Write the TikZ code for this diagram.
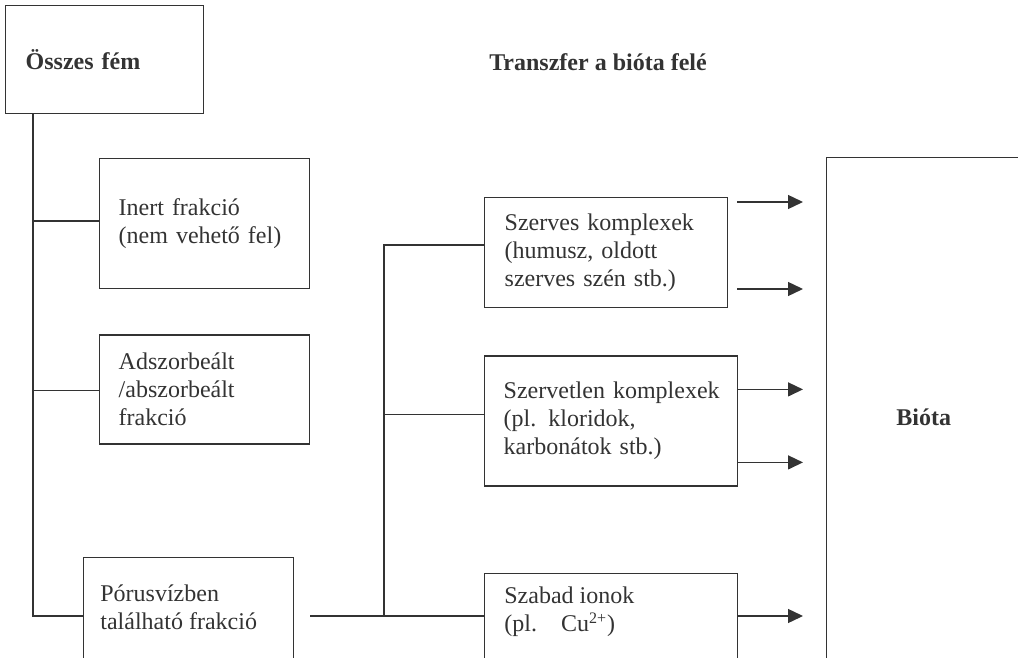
\documentclass[tikz,border=0pt]{standalone}
\usepackage{fontspec}
\setmainfont{Liberation Serif}
\usetikzlibrary{arrows.meta, positioning}
\definecolor{ink}{HTML}{333333}

\begin{document}
\begin{tikzpicture}[x=0.5pt, y=-0.5pt,
	box/.style = {draw=ink, line width=0.7pt, text=ink, align=left, anchor=north west,
		inner ysep=0pt, font=\fontsize{12}{14}\selectfont},
	txt/.style = {text=ink, align=left, inner sep=0pt, anchor=west, font=\fontsize{12}{14}\selectfont},
	flow/.style = {% arrow into the biota
		draw=ink, line width=0.7pt, -{Triangle[length=7.5pt, width=7pt]}, shorten >=11.5pt},
	link/.style = {draw=ink, line width=0.7pt}]
\useasboundingbox (0,0) rectangle (1018,658);
\clip (0,0) rectangle (1018,658);

% left column
\node[box, minimum width=99pt, minimum height=54pt, text width=79pt, inner xsep=10pt,
	font=\fontsize{12}{14}\selectfont\bfseries] (total) at (5,5) {Összes fém};
\node[box, minimum width=105pt, minimum height=65pt, text width=86pt, inner xsep=9.5pt]
	(inert) at (99,158) {Inert frakció\\(nem vehető fel)};
\node[box, minimum width=105pt, minimum height=54.5pt, text width=86pt, inner xsep=9.5pt,
	below=22.5pt of inert.south west, anchor=north west] (adsorb) {Adszorbeált\\/abszorbeált\\frakció};
\node[box, minimum width=105pt, minimum height=60pt] (pore) at (83,557) {};
\node[txt] (poretext) at ([xshift=8.5pt, yshift=-25.25pt]pore.north west) {Pórusvízben\\található frakció};

% middle column
\node[txt, anchor=center, font=\fontsize{12}{14}\selectfont\bfseries] (transfer) at (598,62) {Transzfer a bióta felé};
\node[box, minimum width=121.5pt, minimum height=55pt, text width=101.5pt, inner xsep=10pt]
	(org) at (484,197) {Szerves komplexek\\(humusz, oldott\\szerves szén stb.)};
\node[box, minimum width=126.5pt, minimum height=65pt, text width=107.5pt, inner xsep=9.5pt,
	below=23.5pt of org.south west, anchor=north west] (inorg) {\mbox{Szervetlen komplexek}\\(pl. kloridok,\\karbonátok stb.)};
\node[box, minimum width=126.5pt, minimum height=60pt] (free) at (484,573) {};
\node[txt] (freetext) at ([xshift=10pt, yshift=-19.5pt]free.north west) {Szabad ionok\\(pl.\quad Cu\textsuperscript{2+})};

% right column
\node[box, align=center, inner sep=0pt, minimum width=97pt, minimum height=260pt,
	font=\fontsize{12}{14}\selectfont\bfseries] (biota) at (826,157) {Bióta};

% tree lines
\coordinate (trunk) at ([xshift=14pt]total.south west);
\coordinate (hub) at ([xshift=-50pt, yshift=-21.5pt]free.north west);
\draw[link] (trunk) |- ([yshift=-29.5pt]pore.north west);
\draw[link] ([yshift=-31.5pt]inert.north west -| trunk) -- ([yshift=-31.5pt]inert.north west);
\draw[link] ([yshift=-28pt]adsorb.north west -| trunk) -- ([yshift=-28pt]adsorb.north west);
\draw[link] ([xshift=8pt, yshift=-29.5pt]pore.north east) -- ([yshift=-21.5pt]free.north west);
\draw[link] (hub) |- ([yshift=-24pt]org.north west);
\draw[link] ([yshift=-29.5pt]inorg.north west -| hub) -- ([yshift=-29.5pt]inorg.north west);

% arrows
\draw[flow] ([xshift=4.5pt, yshift=-2.5pt]org.north east) -- ([yshift=-2.5pt]org.north east -| biota.west);
\draw[flow] ([xshift=4.5pt, yshift=-46pt]org.north east) -- ([yshift=-46pt]org.north east -| biota.west);
\draw[flow] ([yshift=-17pt]inorg.north east) -- ([yshift=-17pt]inorg.north east -| biota.west);
\draw[flow] ([yshift=-53.5pt]inorg.north east) -- ([yshift=-53.5pt]inorg.north east -| biota.west);
\draw[flow] ([yshift=-21.5pt]free.north east) -- ([yshift=-21.5pt]free.north east -| biota.west);
\end{tikzpicture}
\end{document}
